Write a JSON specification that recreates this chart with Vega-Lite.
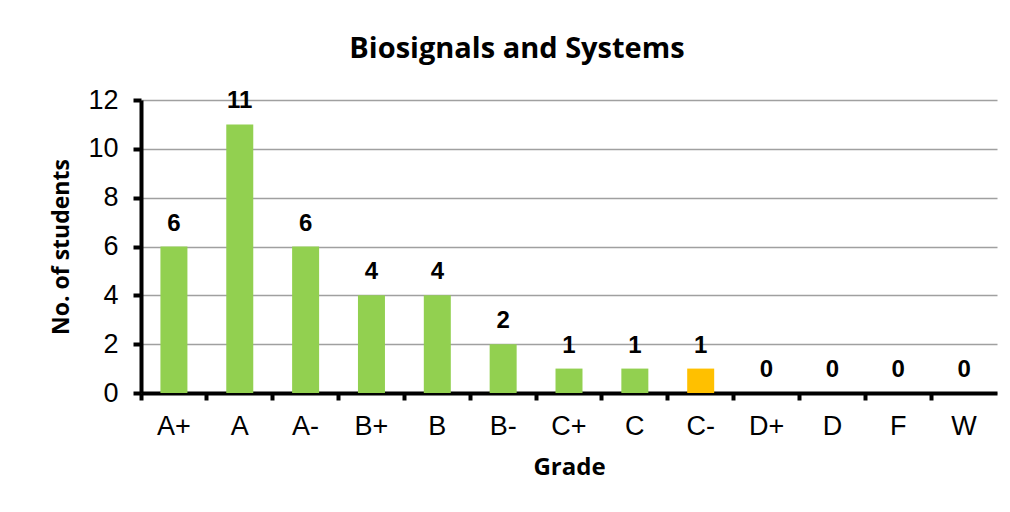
{
  "$schema": "https://vega.github.io/schema/vega-lite/v6.json",
  "autosize": {"type": "none"},
  "width": 856,
  "height": 293,
  "padding": {"left": 141, "top": 100, "right": 13, "bottom": 119},
  "background": "white",
  "title": {
    "text": "Biosignals and Systems",
    "font": "Open Sans",
    "fontSize": 29,
    "fontWeight": "bold",
    "color": "black",
    "anchor": "middle",
    "dx": -52,
    "offset": 22
  },
  "data": {
    "values": [
      {"grade": "A+", "count": 6, "hl": "n"},
      {"grade": "A", "count": 11, "hl": "n"},
      {"grade": "A-", "count": 6, "hl": "n"},
      {"grade": "B+", "count": 4, "hl": "n"},
      {"grade": "B", "count": 4, "hl": "n"},
      {"grade": "B-", "count": 2, "hl": "n"},
      {"grade": "C+", "count": 1, "hl": "n"},
      {"grade": "C", "count": 1, "hl": "n"},
      {"grade": "C-", "count": 1, "hl": "y"},
      {"grade": "D+", "count": 0, "hl": "n"},
      {"grade": "D", "count": 0, "hl": "n"},
      {"grade": "F", "count": 0, "hl": "n"},
      {"grade": "W", "count": 0, "hl": "n"}
    ]
  },
  "encoding": {
    "x": {
      "field": "grade",
      "type": "nominal",
      "sort": null,
      "scale": {"paddingInner": 0, "paddingOuter": 0},
      "axis": {
        "title": "Grade",
        "titleFont": "Open Sans",
        "titleFontSize": 24,
        "titleFontWeight": "bold",
        "titleColor": "black",
        "titlePadding": 16,
        "labelAngle": 0,
        "labelFont": "Liberation Sans",
        "labelFontSize": 27,
        "labelColor": "black",
        "labelPadding": 13,
        "bandPosition": 0,
        "domainColor": "black",
        "domainWidth": 4,
        "tickColor": "black",
        "tickWidth": 4,
        "tickSize": 7,
        "grid": false
      }
    },
    "y": {
      "field": "count",
      "type": "quantitative",
      "scale": {"domain": [0, 12]},
      "axis": {
        "title": "No. of students",
        "titleFont": "Open Sans",
        "titleFontSize": 23,
        "titleFontWeight": "bold",
        "titleColor": "black",
        "titlePadding": 14,
        "values": [0, 2, 4, 6, 8, 10, 12],
        "labelFont": "Liberation Sans",
        "labelFontSize": 27,
        "labelColor": "black",
        "labelPadding": 15,
        "domainColor": "black",
        "domainWidth": 4,
        "tickColor": "black",
        "tickWidth": 4,
        "tickSize": 8,
        "grid": true,
        "gridColor": "#a0a0a0",
        "gridWidth": 1.5
      }
    }
  },
  "layer": [
    {
      "mark": {"type": "bar", "width": {"band": 0.41}},
      "encoding": {
        "color": {
          "field": "hl",
          "type": "nominal",
          "scale": {"domain": ["n", "y"], "range": ["#92D050", "#FFC000"]},
          "legend": null
        }
      }
    },
    {
      "mark": {
        "type": "text",
        "baseline": "bottom",
        "dy": -11,
        "font": "Liberation Sans",
        "fontSize": 24,
        "fontWeight": "bold",
        "color": "black"
      },
      "encoding": {"text": {"field": "count", "type": "quantitative"}}
    }
  ],
  "config": {"view": {"stroke": null}}
}
